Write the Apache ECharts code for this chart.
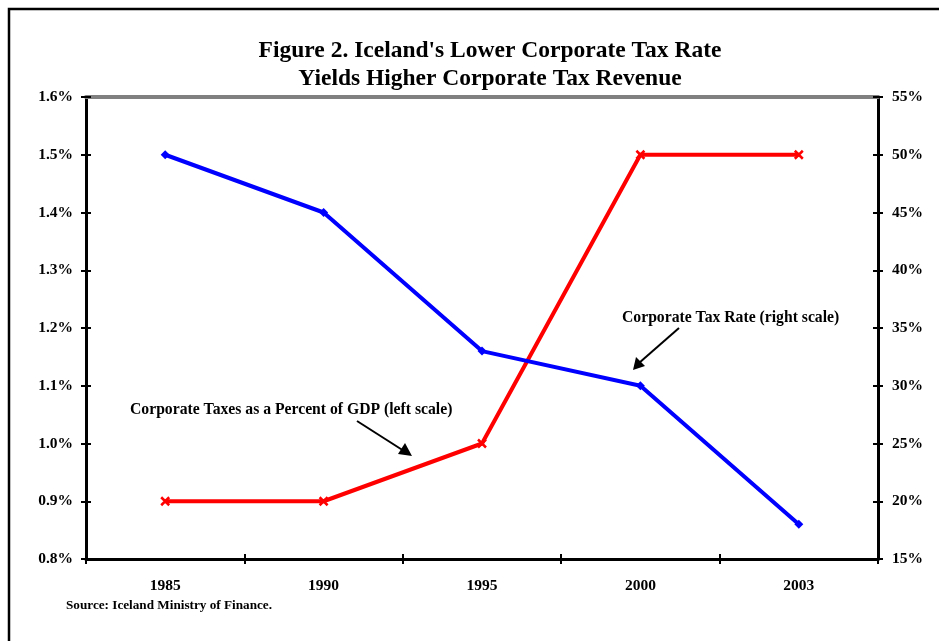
<!DOCTYPE html>
<html>
<head>
<meta charset="utf-8">
<script src="https://cdn.jsdelivr.net/npm/echarts@6/dist/echarts.min.js"></script>
<style>
html,body{margin:0;padding:0;background:#fff;}
#chart{width:939px;height:641px;}
</style>
</head>
<body>
<div id="chart"></div>
<script>
// Data: Iceland corporate taxes
const years = ['1985', '1990', '1995', '2000', '2003'];
const taxRevenuePctGDP = [0.9, 0.9, 1.0, 1.5, 1.5];   // left scale (%)
const corporateTaxRate = [50, 45, 33, 30, 18];        // right scale (%)
const leftTicks = { min: 0.8, max: 1.6, step: 0.1 };
const rightTicks = { min: 15, max: 55, step: 5 };

const FONT = '"Liberation Serif", "Times New Roman", serif';
const chart = echarts.init(document.getElementById('chart'));

const hiddenYAxis = (min, max, step, pos) => ({
  type: 'value', position: pos, min, max, interval: step,
  axisLine: { show: false },
  axisTick: { show: true, inside: true, length: 5, lineStyle: { color: '#000', width: 2 } },
  axisLabel: { show: false }, splitLine: { show: false }
});

chart.setOption({
  animation: false,
  backgroundColor: '#fff',
  title: {
    text: "Figure 2. Iceland's Lower Corporate Tax Rate\nYields Higher Corporate Tax Revenue",
    left: 485, top: 32, textAlign: 'center',
    textStyle: { fontFamily: FONT, fontWeight: 'bold', fontSize: 23.5, lineHeight: 28, color: '#000' }
  },
  grid: { left: 86, right: 61, top: 97, bottom: 82 },
  xAxis: [
    {
      type: 'category', data: years, position: 'bottom', boundaryGap: true,
      axisLine: { lineStyle: { color: '#000', width: 3 } },
      axisTick: { show: true, length: 5, alignWithLabel: false, lineStyle: { color: '#000', width: 2 } },
      axisLabel: { fontFamily: FONT, fontWeight: 'bold', fontSize: 15.5, color: '#000', margin: 19 },
      splitLine: { show: false }
    },
    {
      type: 'category', data: years, position: 'bottom', boundaryGap: true,
      axisLine: { show: false },
      axisTick: { show: true, inside: true, length: 5, lineStyle: { color: '#000', width: 2 } },
      axisLabel: { show: false }
    },
    {
      type: 'category', data: years, position: 'top', boundaryGap: true,
      axisLine: { lineStyle: { color: '#808080', width: 4 } },
      axisTick: { show: false }, axisLabel: { show: false }
    }
  ],
  yAxis: [
    {
      type: 'value', position: 'left', min: leftTicks.min, max: leftTicks.max, interval: leftTicks.step,
      axisLine: { show: true, lineStyle: { color: '#000', width: 3 } },
      axisTick: { show: true, length: 5, lineStyle: { color: '#000', width: 2 } },
      axisLabel: {
        fontFamily: FONT, fontWeight: 'bold', fontSize: 15.5, color: '#000', margin: 13,
        formatter: v => v.toFixed(1) + '%'
      },
      splitLine: { show: false }
    },
    {
      type: 'value', position: 'right', min: rightTicks.min, max: rightTicks.max, interval: rightTicks.step,
      axisLine: { show: true, lineStyle: { color: '#000', width: 3 } },
      axisTick: { show: true, length: 5, lineStyle: { color: '#000', width: 2 } },
      axisLabel: {
        fontFamily: FONT, fontWeight: 'bold', fontSize: 15.5, color: '#000', margin: 14,
        formatter: v => v + '%'
      },
      splitLine: { show: false }
    },
    hiddenYAxis(leftTicks.min, leftTicks.max, leftTicks.step, 'left'),
    hiddenYAxis(rightTicks.min, rightTicks.max, rightTicks.step, 'right')
  ],
  series: [
    {
      name: 'Corporate Taxes as a Percent of GDP (left scale)',
      type: 'line', xAxisIndex: 0, yAxisIndex: 0, data: taxRevenuePctGDP,
      lineStyle: { color: '#ff0000', width: 4 },
      symbol: 'path://M0,0L10,10M10,0L0,10', symbolSize: 8,
      itemStyle: { color: '#ff0000', borderColor: '#ff0000', borderWidth: 2.5 },
      z: 3
    },
    {
      name: 'Corporate Tax Rate (right scale)',
      type: 'line', xAxisIndex: 0, yAxisIndex: 1, data: corporateTaxRate,
      lineStyle: { color: '#0000ff', width: 4 },
      symbol: 'diamond', symbolSize: 9,
      itemStyle: { color: '#0000ff' },
      z: 4
    }
  ],
  graphic: [
    // outer frame
    { type: 'rect', shape: { x: 9, y: 9, width: 960, height: 660 },
      style: { fill: 'none', stroke: '#000', lineWidth: 2.5 }, silent: true },
    // annotation: left-scale series
    { type: 'text', left: 130, top: 402,
      style: { text: 'Corporate Taxes as a Percent of GDP (left scale)', font: 'bold 15.7px ' + FONT, fill: '#000' } },
    { type: 'line', shape: { x1: 357, y1: 421, x2: 404, y2: 451 },
      style: { stroke: '#000', lineWidth: 2 } },
    { type: 'polygon', shape: { points: [[412, 456], [398, 454], [405, 443]] },
      style: { fill: '#000' } },
    // annotation: right-scale series
    { type: 'text', left: 622, top: 310,
      style: { text: 'Corporate Tax Rate (right scale)', font: 'bold 15.7px ' + FONT, fill: '#000' } },
    { type: 'line', shape: { x1: 679, y1: 328, x2: 639, y2: 363 },
      style: { stroke: '#000', lineWidth: 2 } },
    { type: 'polygon', shape: { points: [[633, 370], [636, 357], [645, 366]] },
      style: { fill: '#000' } },
    // source note
    { type: 'text', left: 66, top: 599,
      style: { text: 'Source: Iceland Ministry of Finance.', font: 'bold 13.2px ' + FONT, fill: '#000' } }
  ]
});
</script>
</body>
</html>
